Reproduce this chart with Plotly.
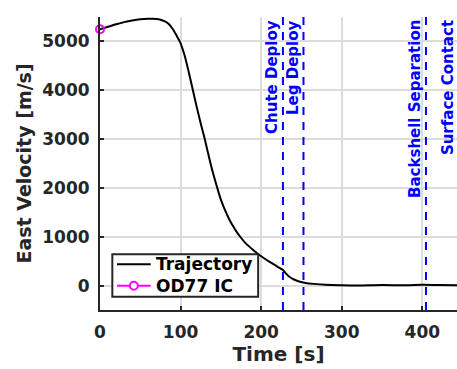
import plotly.graph_objects as go

# Trajectory east velocity vs time
time_s = [0, 10, 20, 30, 40, 50, 60, 65, 70, 75, 80, 85, 90, 95, 100, 105, 110,
          115, 120, 125, 130, 135, 140, 145, 150, 155, 160, 165, 170, 174,
          180, 190, 200, 210, 220, 227, 230, 235, 240, 248, 255, 265, 280,
          300, 320, 350, 380, 400, 420, 445]
east_vel = [5250, 5300, 5350, 5395, 5430, 5455, 5465, 5465, 5460, 5445, 5415, 5360,
            5260, 5120, 4960, 4710, 4380, 4020, 3660, 3320, 3000, 2650, 2320,
            2030, 1760, 1550, 1370, 1220, 1090, 1000, 880, 730, 600, 490, 390,
            320, 260, 180, 130, 80, 55, 35, 15, 5, 0, 10, 5, 15, 10, 5]

# Initial condition point
ic_time = [0]
ic_vel = [5250]

# Event markers
event_names = ["Chute Deploy", "Leg Deploy", "Backshell Separation", "Surface Contact"]
event_times = [227, 252.5, 404.5, 445]

legend_names = ["Trajectory", "OD77 IC"]
legend_colors = ["black", "magenta"]

x_range = [0, 443]
y_range = [-500, 5500]
x_ticks = [0, 100, 200, 300, 400]
y_ticks = [0, 1000, 2000, 3000, 4000, 5000]

axis_col = "#262626"
font_family = "DejaVu Sans"

fig = go.Figure()
fig.add_trace(go.Scatter(x=time_s, y=east_vel, mode="lines", name=legend_names[0],
                         line=dict(color=legend_colors[0], width=2, shape="spline",
                                   smoothing=0.8)))
fig.add_trace(go.Scatter(x=ic_time, y=ic_vel, mode="markers", name=legend_names[1],
                         marker=dict(symbol="circle-open", size=8, color=legend_colors[1],
                                     line=dict(width=2, color=legend_colors[1])),
                         cliponaxis=False))

span = x_range[1] - x_range[0]
for name, t in zip(event_names, event_times):
    fig.add_shape(type="line", x0=t, x1=t, xref="x", yref="paper", y0=0, y1=1,
                  line=dict(color="blue", width=2, dash="8px,7px"))
    fig.add_annotation(x=(t - x_range[0]) / span, xref="paper", y=1, yref="paper",
                       text=name, textangle=-90, showarrow=False,
                       xanchor="right", yanchor="top", xshift=0, yshift=-1,
                       font=dict(family=font_family, size=15, color="blue",
                                 weight="bold"))

# Legend box in the lower left of the axes
box = dict(x0=0.0345, x1=0.443, y0=0.0454, y1=0.190)
rows_y = [0.156, 0.083]
sample_x = [0.0476, 0.142]
fig.add_shape(type="rect", xref="paper", yref="paper", layer="above",
              x0=box["x0"], x1=box["x1"], y0=box["y0"], y1=box["y1"],
              fillcolor="white", line=dict(color=axis_col, width=2))
for name, col, ry in zip(legend_names, legend_colors, rows_y):
    fig.add_shape(type="line", xref="paper", yref="paper", layer="above",
                  x0=sample_x[0], x1=sample_x[1], y0=ry, y1=ry,
                  line=dict(color=col, width=2))
    fig.add_annotation(x=0.152, y=ry, xref="paper", yref="paper", text=name,
                       showarrow=False, xanchor="left", yanchor="middle",
                       font=dict(family=font_family, size=17, color="black",
                                 weight="bold"))
mx = (sample_x[0] + sample_x[1]) / 2
fig.add_shape(type="circle", xref="paper", yref="paper", layer="above",
              xsizemode="pixel", ysizemode="pixel", xanchor=mx, yanchor=rows_y[1],
              x0=-4, x1=4, y0=-4, y1=4, fillcolor="white",
              line=dict(color=legend_colors[1], width=2))

fig.update_layout(
    width=457, height=369,
    margin=dict(l=100, r=0, t=17, b=59),
    plot_bgcolor="white", paper_bgcolor="white",
    font=dict(family=font_family, size=17, color=axis_col),
    showlegend=False,
)
fig.update_xaxes(range=x_range, tickvals=x_ticks, showgrid=True, gridcolor="#dcdcdc",
                 gridwidth=1.5, showline=True, linecolor=axis_col, linewidth=2,
                 ticks="inside", ticklen=4, tickwidth=2, tickcolor=axis_col,
                 zeroline=False, ticklabelstandoff=6,
                 tickfont=dict(size=17, weight="bold", color=axis_col),
                 title=dict(text="Time [s]", standoff=4,
                            font=dict(size=20, weight="bold", color=axis_col)))
fig.update_yaxes(range=y_range, tickvals=y_ticks, showgrid=True, gridcolor="#dcdcdc",
                 gridwidth=1.5, showline=True, linecolor=axis_col, linewidth=2,
                 ticks="inside", ticklen=4, tickwidth=2, tickcolor=axis_col,
                 zeroline=False, ticklabelstandoff=5,
                 tickfont=dict(size=17, weight="bold", color=axis_col),
                 title=dict(text="East Velocity [m/s]", standoff=6,
                            font=dict(size=19, weight="bold", color=axis_col)))

fig.write_html("out.html")
